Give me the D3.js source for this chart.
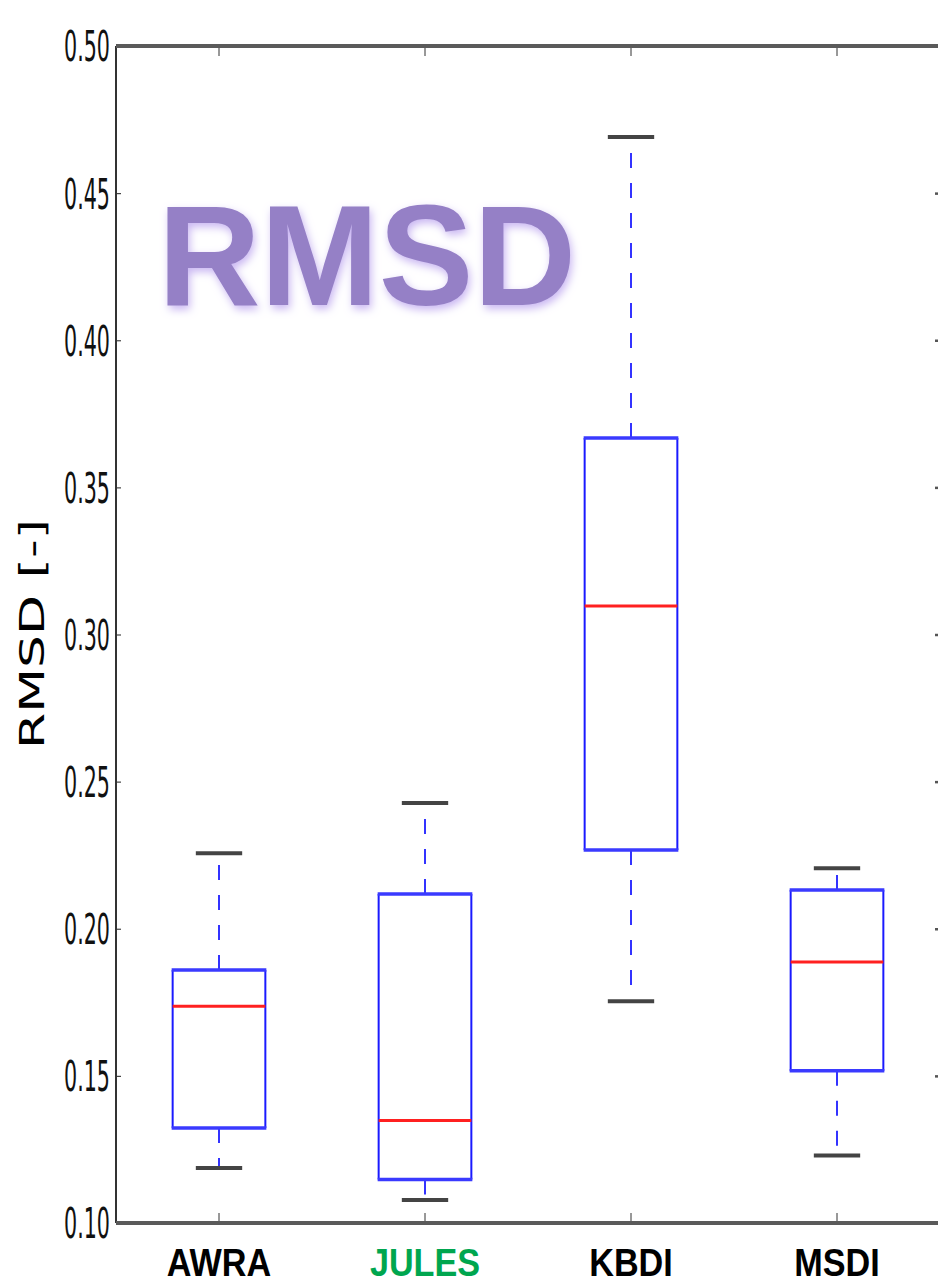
<!DOCTYPE html>
<html>
<head>
<meta charset="utf-8">
<script src="https://cdn.jsdelivr.net/npm/d3@7"></script>
<style>
  html, body { margin: 0; padding: 0; background: #fff; }
  svg { display: block; }
</style>
</head>
<body>
<script>
// ---- data ----
const categories = ["AWRA", "JULES", "KBDI", "MSDI"];
const categoryColors = ["#000000", "#00a64f", "#000000", "#000000"];
const whiskerLow  = [0.1187, 0.1078, 0.1754, 0.1229];
const q1          = [0.1323, 0.1148, 0.2268, 0.1517];
const median      = [0.1737, 0.1348, 0.3097, 0.1887];
const q3          = [0.1860, 0.2118, 0.3668, 0.2132];
const whiskerHigh = [0.2257, 0.2427, 0.4691, 0.2206];
const yTicks = [0.10, 0.15, 0.20, 0.25, 0.30, 0.35, 0.40, 0.45, 0.50];
const yLabel = "RMSD [-]";
const titleText = "RMSD";

(function () {
const W = 938, H = 1284;
const mLeft = 116, mRight = 940, mTop = 46, mBottom = 1223;

const svg = d3.select("body").append("svg").attr("width", W).attr("height", H);

const defs = svg.append("defs");
const glow = defs.append("filter").attr("id", "glow")
  .attr("x", "-10%").attr("y", "-20%").attr("width", "120%").attr("height", "140%");
glow.append("feGaussianBlur").attr("in", "SourceAlpha").attr("stdDeviation", 4).attr("result", "blur");
glow.append("feFlood").attr("flood-color", "#c9b6f2").attr("result", "col");
glow.append("feComposite").attr("in", "col").attr("in2", "blur").attr("operator", "in").attr("result", "glowc");
glow.append("feOffset").attr("in", "glowc").attr("dx", 2).attr("dy", 4).attr("result", "glowo");
const mg = glow.append("feMerge");
mg.append("feMergeNode").attr("in", "glowo");
mg.append("feMergeNode").attr("in", "SourceGraphic");

const y = d3.scaleLinear().domain([0.10, 0.50]).range([mBottom, mTop]);
const x = d3.scaleBand().domain(categories).range([mLeft, mRight]).padding(0);
const cx = c => x(c) + x.bandwidth() / 2;
const boxW = 0.45 * x.bandwidth();
const capW = boxW / 2;

// ---- axes ----
const yAxis = svg.append("g").attr("transform", `translate(${mLeft},0)`)
  .call(d3.axisRight(y).tickValues(yTicks).tickSize(5).tickFormat(""));
yAxis.select(".domain").remove();
yAxis.selectAll(".tick line").attr("stroke", "#444").attr("stroke-width", 1.2);

const yAxisR = svg.append("g").attr("transform", `translate(${mRight},0)`)
  .call(d3.axisLeft(y).tickValues(yTicks).tickSize(5).tickFormat(""));
yAxisR.select(".domain").remove();
yAxisR.selectAll(".tick line").attr("stroke", "#555").attr("stroke-width", 2.5);

// tick labels (narrow, condensed)
svg.append("g").selectAll("text").data(yTicks).join("text")
  .attr("transform", d => `translate(110,${y(d)}) scale(0.48,1)`)
  .attr("text-anchor", "end")
  .attr("dy", "0.36em")
  .attr("font-family", "DejaVu Sans")
  .attr("font-size", 43)
  .attr("fill", "#111")
  .text(d3.format(".2f"));

const xAxisB = svg.append("g").attr("transform", `translate(0,${mBottom})`)
  .call(d3.axisTop(x).tickSize(10).tickFormat(""));
xAxisB.select(".domain").remove();
xAxisB.selectAll(".tick line").attr("stroke", "#333").attr("stroke-width", 1);

const xAxisT = svg.append("g").attr("transform", `translate(0,${mTop})`)
  .call(d3.axisBottom(x).tickSize(10).tickFormat(""));
xAxisT.select(".domain").remove();
xAxisT.selectAll(".tick line").attr("stroke", "#333").attr("stroke-width", 1);

// spines
svg.append("line").attr("x1", mLeft).attr("x2", mLeft).attr("y1", mTop).attr("y2", mBottom)
  .attr("stroke", "#333").attr("stroke-width", 2);
svg.append("line").attr("x1", mLeft).attr("x2", W).attr("y1", mTop).attr("y2", mTop)
  .attr("stroke", "#5a5a5a").attr("stroke-width", 4);
svg.append("line").attr("x1", mLeft).attr("x2", W).attr("y1", mBottom).attr("y2", mBottom)
  .attr("stroke", "#5a5a5a").attr("stroke-width", 4);

// category labels
svg.append("g").selectAll("text").data(categories).join("text")
  .attr("transform", d => `translate(${cx(d)},1276) scale(0.9,1)`)
  .attr("text-anchor", "middle")
  .attr("font-family", "Liberation Sans, Arial, sans-serif")
  .attr("font-weight", "bold")
  .attr("font-size", 38)
  .attr("fill", (d, i) => categoryColors[i])
  .text(d => d);

// y label
svg.append("text")
  .attr("transform", `translate(44,634) rotate(-90) scale(1,0.66)`)
  .attr("text-anchor", "middle")
  .attr("font-family", "DejaVu Sans")
  .attr("font-size", 52)
  .attr("fill", "#000")
  .text(yLabel);

// ---- boxes ----
const boxes = svg.append("g");
categories.forEach((c, i) => {
  const xc = cx(c);
  const g = boxes.append("g");
  g.append("line").attr("x1", xc).attr("x2", xc).attr("y1", y(q3[i])).attr("y2", y(whiskerHigh[i]))
    .attr("stroke", "#3333ff").attr("stroke-width", 2).attr("stroke-dasharray", "15,15");
  g.append("line").attr("x1", xc).attr("x2", xc).attr("y1", y(q1[i])).attr("y2", y(whiskerLow[i]))
    .attr("stroke", "#3333ff").attr("stroke-width", 2).attr("stroke-dasharray", "15,15");
  [whiskerHigh[i], whiskerLow[i]].forEach(v => {
    g.append("line").attr("x1", xc - capW / 2).attr("x2", xc + capW / 2)
      .attr("y1", y(v)).attr("y2", y(v))
      .attr("stroke", "#444").attr("stroke-width", 4);
  });
  const xl = xc - boxW / 2, xr = xc + boxW / 2;
  g.append("line").attr("x1", xl).attr("x2", xl).attr("y1", y(q1[i])).attr("y2", y(q3[i]))
    .attr("stroke", "#1a1aff").attr("stroke-width", 2);
  g.append("line").attr("x1", xr).attr("x2", xr).attr("y1", y(q1[i])).attr("y2", y(q3[i]))
    .attr("stroke", "#1a1aff").attr("stroke-width", 2);
  [q1[i], q3[i]].forEach(v => {
    g.append("line").attr("x1", xl - 1).attr("x2", xr + 1).attr("y1", y(v)).attr("y2", y(v))
      .attr("stroke", "#3a3aff").attr("stroke-width", 3.5);
  });
  g.append("line").attr("x1", xl).attr("x2", xr).attr("y1", y(median[i])).attr("y2", y(median[i]))
    .attr("stroke", "#ff2020").attr("stroke-width", 3);
});

// title
svg.append("text")
  .attr("x", 158).attr("y", 305)
  .attr("font-family", "Liberation Sans, Arial, sans-serif")
  .attr("font-weight", "bold")
  .attr("font-size", 142)
  .attr("fill", "#9580c6")
  .attr("filter", "url(#glow)")
  .text(titleText);
})();
</script>
</body>
</html>
